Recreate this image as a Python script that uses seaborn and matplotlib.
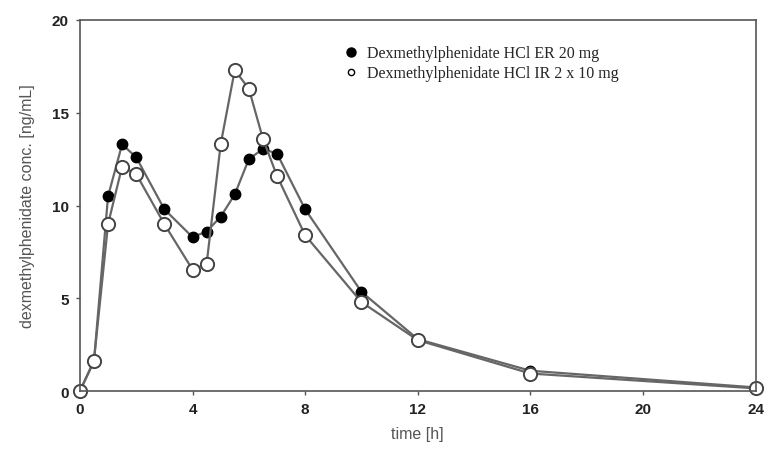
import numpy as np
import pandas as pd
import seaborn as sns
import matplotlib.pyplot as plt
from matplotlib.lines import Line2D

sns.set_theme(style="white")
plt.rcParams['font.family'] = ['Liberation Sans', 'DejaVu Sans']

time_h = [0, 0.5, 1, 1.5, 2, 3, 4, 4.5, 5, 5.5, 6, 6.5, 7, 8, 10, 12, 16, 24]
er_20mg = [0, 1.6, 10.5, 13.3, 12.6, 9.8, 8.3, 8.6, 9.4, 10.6, 12.5, 13.05, 12.8, 9.8, 5.35, 2.8, 1.1, 0.2]
ir_2x10mg = [0, 1.65, 9.0, 12.1, 11.7, 9.0, 6.55, 6.85, 13.3, 17.3, 16.3, 13.6, 11.6, 8.4, 4.8, 2.75, 0.95, 0.15]

label_er = "Dexmethylphenidate HCl ER 20 mg"
label_ir = "Dexmethylphenidate HCl IR 2 x 10 mg"

df_er = pd.DataFrame({"time": time_h, "conc": er_20mg})
df_ir = pd.DataFrame({"time": time_h, "conc": ir_2x10mg})

fig = plt.figure(figsize=(7.68, 4.56), dpi=100)
ax = fig.add_axes([0.104, 0.14, 0.88, 0.814])

line_col = "#666666"
sns.lineplot(data=df_er, x="time", y="conc", ax=ax, color=line_col, lw=1.6,
             marker="o", markersize=7.5, markerfacecolor="black",
             markeredgecolor="black", markeredgewidth=1, clip_on=False)
sns.lineplot(data=df_ir, x="time", y="conc", ax=ax, color=line_col, lw=1.6,
             marker="o", markersize=9.5, markerfacecolor="white",
             markeredgecolor="#444444", markeredgewidth=1.4, clip_on=False)

ax.set_xlim(0, 24)
ax.set_ylim(0, 20)
ax.set_xticks([0, 4, 8, 12, 16, 20, 24])
ax.set_yticks([0, 5, 10, 15, 20])
for lab in ax.get_xticklabels() + ax.get_yticklabels():
    lab.set_fontweight("bold")
    lab.set_fontsize(11)
    lab.set_color("#222222")
ax.tick_params(axis="both", length=3, width=1, color="#555555", direction="out",
               bottom=True, left=True, pad=5)
for s in ax.spines.values():
    s.set_color("#555555")
    s.set_linewidth(1.2)

ax.set_xlabel("time [h]", fontsize=11.5, color="#555555", labelpad=7)
ax.set_ylabel("dexmethylphenidate conc. [ng/mL]", fontsize=11.5, color="#555555", labelpad=12)

handles = [
    Line2D([], [], ls="none", marker="o", markersize=6.5, markerfacecolor="black",
           markeredgecolor="black"),
    Line2D([], [], ls="none", marker="o", markersize=4.5, markerfacecolor="white",
           markeredgecolor="black"),
]
ax.legend(handles, [label_er, label_ir], loc="upper left",
          bbox_to_anchor=(0.37, 0.97), frameon=False, handlelength=0.8,
          handletextpad=0.6, labelspacing=0.25,
          prop={"family": "Liberation Serif", "size": 11.5})

fig.savefig("out.png", dpi=100)
